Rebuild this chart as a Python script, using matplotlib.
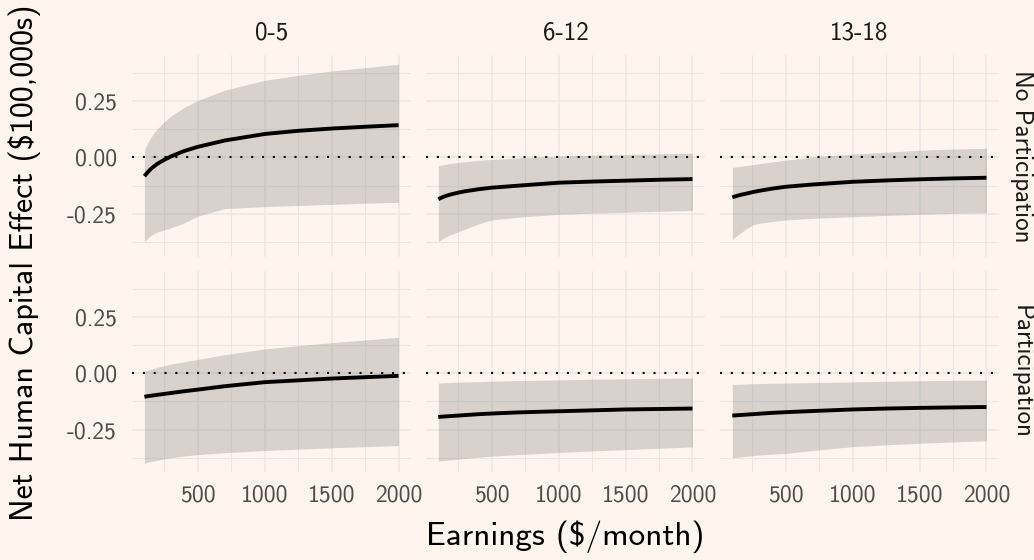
import matplotlib
matplotlib.use("Agg")
import matplotlib.pyplot as plt

plt.rcParams['font.family'] = ['cmss10', 'DejaVu Sans']
plt.rcParams['axes.unicode_minus'] = False

# Earnings grid ($/month)
earnings = [100, 125, 150, 175, 200, 250, 300, 400, 500, 700, 1000, 1250, 1500, 1750, 2000]

age_groups = ["0-5", "6-12", "13-18"]
participation = ["No Participation", "Participation"]

# Net human capital effect ($100,000s): estimate, lower and upper bound
no_part_0_5_est = [-0.083, -0.065, -0.050, -0.038, -0.027, -0.010, 0.005, 0.029, 0.047, 0.075, 0.104, 0.118, 0.128, 0.136, 0.143]
no_part_0_5_lo = [-0.373, -0.357, -0.346, -0.337, -0.330, -0.321, -0.312, -0.290, -0.260, -0.227, -0.218, -0.213, -0.208, -0.203, -0.199]
no_part_0_5_hi = [0.035, 0.065, 0.090, 0.111, 0.129, 0.159, 0.184, 0.223, 0.253, 0.298, 0.342, 0.364, 0.383, 0.398, 0.413]

no_part_6_12_est = [-0.185, -0.178, -0.172, -0.167, -0.163, -0.156, -0.150, -0.141, -0.134, -0.125, -0.112, -0.107, -0.103, -0.099, -0.096]
no_part_6_12_lo = [-0.373, -0.363, -0.355, -0.347, -0.340, -0.329, -0.318, -0.295, -0.277, -0.265, -0.252, -0.247, -0.243, -0.239, -0.235]
no_part_6_12_hi = [-0.037, -0.034, -0.031, -0.028, -0.026, -0.022, -0.019, -0.013, -0.009, -0.002, 0.006, 0.010, 0.013, 0.016, 0.019]

no_part_13_18_est = [-0.177, -0.172, -0.168, -0.164, -0.161, -0.154, -0.148, -0.138, -0.130, -0.120, -0.108, -0.102, -0.097, -0.093, -0.090]
no_part_13_18_lo = [-0.363, -0.351, -0.340, -0.329, -0.318, -0.300, -0.292, -0.284, -0.277, -0.270, -0.263, -0.257, -0.252, -0.248, -0.245]
no_part_13_18_hi = [-0.044, -0.042, -0.040, -0.038, -0.036, -0.032, -0.028, -0.020, -0.012, 0.002, 0.015, 0.023, 0.032, 0.037, 0.041]

part_0_5_est = [-0.105, -0.102, -0.100, -0.098, -0.096, -0.092, -0.088, -0.080, -0.073, -0.058, -0.040, -0.032, -0.024, -0.018, -0.012]
part_0_5_lo = [-0.399, -0.395, -0.392, -0.389, -0.386, -0.380, -0.375, -0.367, -0.361, -0.353, -0.343, -0.337, -0.331, -0.326, -0.321]
part_0_5_hi = [0.009, 0.014, 0.018, 0.022, 0.026, 0.033, 0.040, 0.051, 0.061, 0.082, 0.107, 0.122, 0.135, 0.147, 0.159]

part_6_12_est = [-0.194, -0.193, -0.192, -0.191, -0.190, -0.188, -0.186, -0.182, -0.179, -0.174, -0.169, -0.165, -0.161, -0.159, -0.157]
part_6_12_lo = [-0.390, -0.388, -0.387, -0.385, -0.384, -0.381, -0.378, -0.373, -0.368, -0.361, -0.352, -0.345, -0.339, -0.333, -0.327]
part_6_12_hi = [-0.043, -0.043, -0.042, -0.042, -0.041, -0.040, -0.039, -0.038, -0.036, -0.033, -0.030, -0.027, -0.025, -0.023, -0.022]

part_13_18_est = [-0.188, -0.187, -0.186, -0.185, -0.184, -0.182, -0.180, -0.176, -0.173, -0.168, -0.161, -0.157, -0.154, -0.152, -0.150]
part_13_18_lo = [-0.375, -0.374, -0.372, -0.371, -0.369, -0.366, -0.363, -0.359, -0.356, -0.343, -0.326, -0.318, -0.311, -0.305, -0.300]
part_13_18_hi = [-0.050, -0.050, -0.049, -0.049, -0.048, -0.047, -0.046, -0.045, -0.044, -0.042, -0.039, -0.036, -0.034, -0.032, -0.031]

x_ticks = [500, 1000, 1500, 2000]
x_tick_labels = ["500", "1000", "1500", "2000"]
y_ticks = [-0.25, 0.0, 0.25]
y_tick_labels = ["-0.25", "0.00", "0.25"]

panels = [
    [(no_part_0_5_est, no_part_0_5_lo, no_part_0_5_hi),
     (no_part_6_12_est, no_part_6_12_lo, no_part_6_12_hi),
     (no_part_13_18_est, no_part_13_18_lo, no_part_13_18_hi)],
    [(part_0_5_est, part_0_5_lo, part_0_5_hi),
     (part_6_12_est, part_6_12_lo, part_6_12_hi),
     (part_13_18_est, part_13_18_lo, part_13_18_hi)],
]

BG = "#FFF5EE"
GRID = "#E9E7E6"
W, H = 1034, 560
fig = plt.figure(figsize=(W / 100, H / 100), dpi=100, facecolor=BG)

col_left = [131.7, 425.6, 719.6]
panel_w = 279.6
row_top = [55.0, 270.7]
panel_h = 201.7

x_lim = (5, 2095)
y_lim = (-0.44, 0.454)

for r in range(2):
    for c in range(3):
        ax = fig.add_axes([col_left[c] / W, 1 - (row_top[r] + panel_h) / H,
                           panel_w / W, panel_h / H])
        ax.set_facecolor(BG)
        for s in ax.spines.values():
            s.set_visible(False)
        ax.set_xlim(*x_lim)
        ax.set_ylim(*y_lim)
        ax.set_xticks(x_ticks)
        ax.set_xticks([250, 750, 1250, 1750], minor=True)
        ax.set_yticks(y_ticks)
        ax.set_yticks([-0.375, -0.125, 0.125, 0.375], minor=True)
        ax.grid(which="major", color=GRID, lw=1.1, zorder=0)
        ax.grid(which="minor", color=GRID, lw=0.8, zorder=0)
        ax.set_axisbelow(True)
        ax.tick_params(which="both", length=0, colors="#4D4D4D", labelsize=17)
        ax.tick_params(axis="y", pad=10.5)
        ax.tick_params(axis="x", pad=9)
        if c == 0:
            ax.set_yticklabels(y_tick_labels)
        else:
            ax.set_yticklabels([])
        if r == 1:
            ax.set_xticklabels(x_tick_labels)
        else:
            ax.set_xticklabels([])

        est, lo, hi = panels[r][c]
        ax.fill_between(earnings, lo, hi, color="#808080", alpha=0.3, lw=0, zorder=2)
        ax.axhline(0, color="black", lw=1.5, ls=(0, (1, 4.2)), zorder=3)
        ax.plot(earnings, est, color="black", lw=2.8, solid_capstyle="butt",
                solid_joinstyle="round", zorder=4)

        if r == 0:
            fig.text((col_left[c] + panel_w / 2) / W, 1 - 32.5 / H, age_groups[c],
                     ha="center", va="center", fontsize=18, color="#1A1A1A")
        if c == 2:
            fig.text(1021 / W, 1 - (row_top[r] + panel_h / 2) / H, participation[r],
                     ha="center", va="center", rotation=-90, fontsize=18, color="#1A1A1A")

fig.text((col_left[0] + col_left[2] + panel_w) / 2 / W, 1 - 537 / H,
         r"Earnings (\$/month)", ha="center", va="center", fontsize=24, color="black")
fig.text(25 / W, 1 - 262.5 / H,
         r"Net Human Capital Effect (\$100,000s)", ha="center", va="center",
         rotation=90, fontsize=23, color="black")

fig.savefig("out.png", dpi=100, facecolor=BG)
